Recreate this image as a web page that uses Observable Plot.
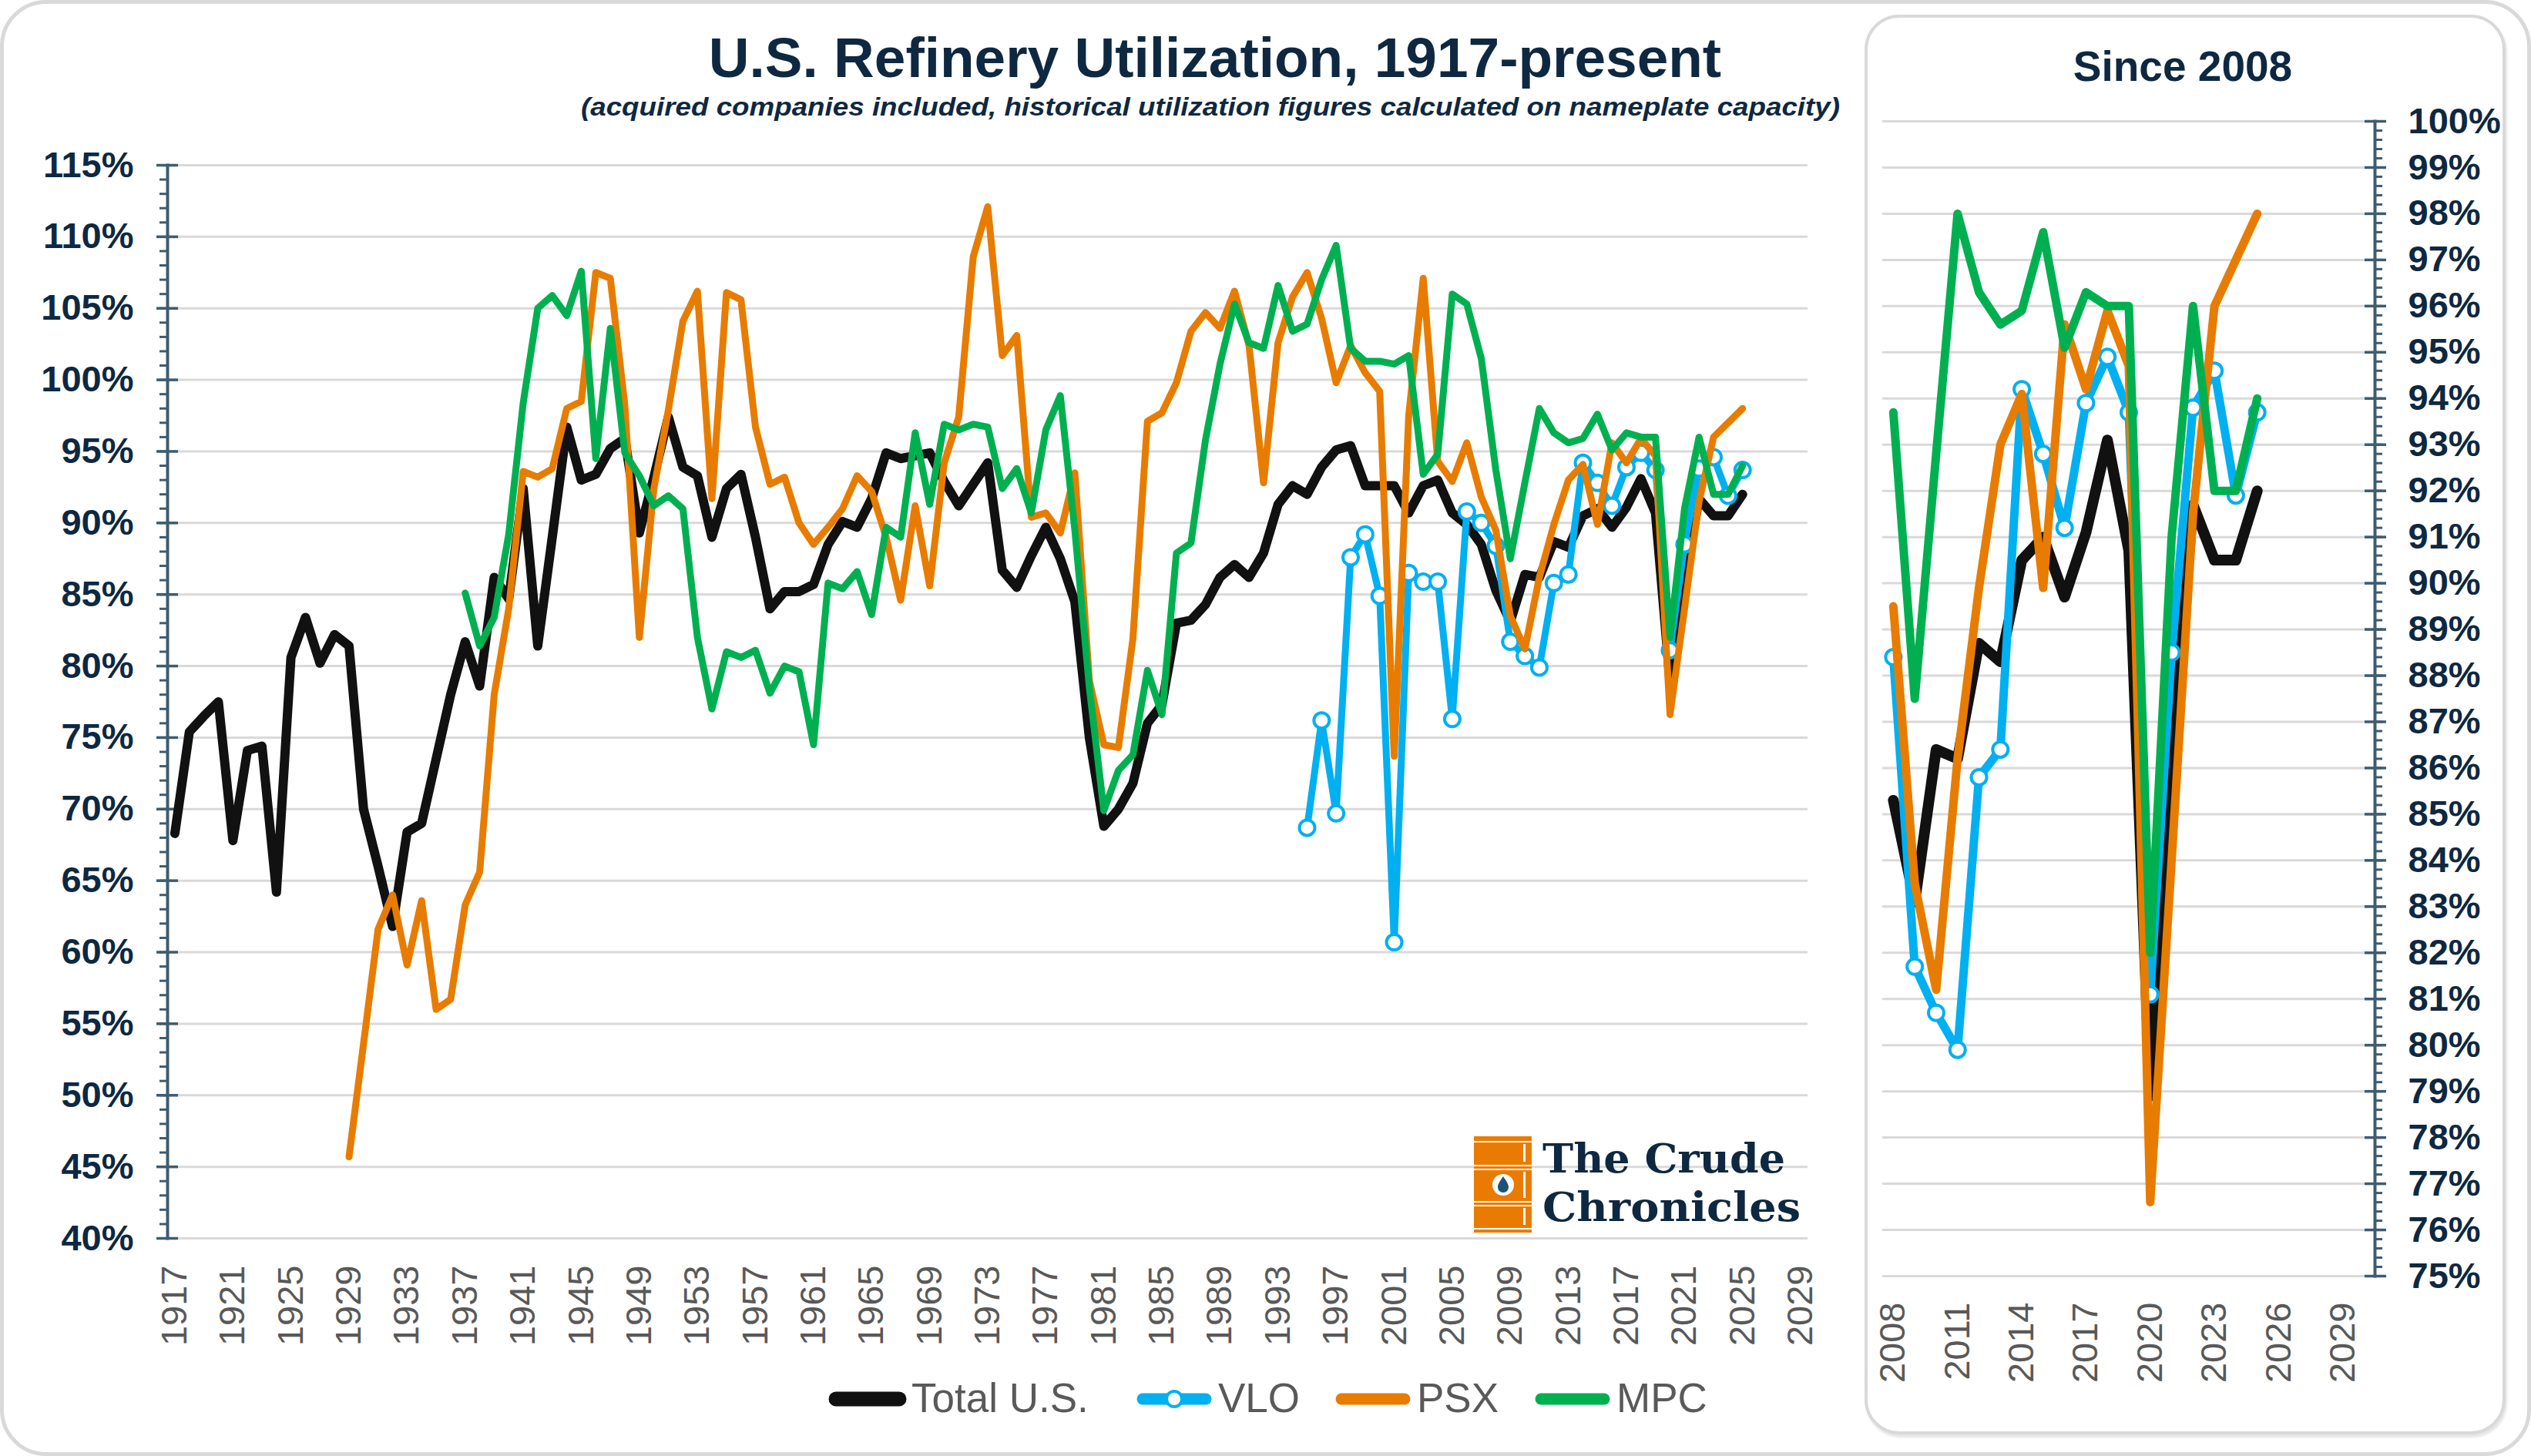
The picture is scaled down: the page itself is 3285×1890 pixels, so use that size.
<!DOCTYPE html>
<html>
<head>
<meta charset="utf-8">
<script src="https://cdn.jsdelivr.net/npm/d3@7"></script>
<script src="https://cdn.jsdelivr.net/npm/@observablehq/plot@0.6"></script>
<style>
  html, body { margin: 0; padding: 0; background: #ffffff; }
  #page { position: relative; width: 3285px; height: 1890px; overflow: hidden; background: #fff;
          font-family: "Liberation Sans", Arial, sans-serif; }
  #outer { position: absolute; left: 0; top: 0; width: 3285px; height: 1890px; box-sizing: border-box;
           border: 5px solid #D9D9D9; border-radius: 60px; }
  #card { position: absolute; left: 2420px; top: 19px; width: 832px; height: 1843px; box-sizing: border-box;
          border: 4px solid #D9D9D9; border-radius: 45px; box-shadow: 2px 4px 3px rgba(0,0,0,0.10); background: #fff; }
  #main, #inset, #overlay { position: absolute; top: 0; }
  #main { left: 0; }
  #inset { left: 2420px; }
  #overlay { left: 0; pointer-events: none; }
  svg { overflow: visible; }
</style>
</head>
<body>
<div id="page">
  <div id="outer"></div>
  <div id="card"></div>
  <div id="main"></div>
  <div id="inset"></div>
  <svg id="overlay" width="3285" height="1890"></svg>
</div>
<script>
// ---------------- DATA ----------------
const seriesNames  = ["Total U.S.", "VLO", "PSX", "MPC"];
const seriesColors = ["#111111", "#00B0F0", "#E77C00", "#00B050"];

const totalStart = 1917;
const totalUS = [
  68.3, 75.4, 76.5, 77.5, 67.8, 74.1, 74.4, 64.2, 80.6, 83.4,   // 1917-1926
  80.2, 82.2, 81.4, 70.0, 66.0, 61.8, 68.4, 69.0, 73.5, 78.0,   // 1927-1936
  81.7, 78.6, 86.2, 84.7, 92.4, 81.4, 89.0, 96.7, 93.0, 93.4,   // 1937-1946
  95.2, 95.9, 89.3, 93.2, 97.4, 93.9, 93.3, 89.0, 92.4, 93.4,   // 1947-1956
  89.0, 84.0, 85.2, 85.2, 85.7, 88.5, 90.1, 89.7, 91.7, 94.9,   // 1957-1966
  94.5, 94.7, 94.9, 92.9, 91.2, 92.7, 94.2, 86.7, 85.5, 87.7,   // 1967-1976
  89.7, 87.5, 84.5, 75.0, 68.8, 70.0, 71.8, 76.0, 77.3, 83.0,   // 1977-1986
  83.2, 84.3, 86.2, 87.1, 86.2, 87.9, 91.3, 92.6, 92.0, 93.9,   // 1987-1996
  95.1, 95.4, 92.6, 92.6, 92.6, 90.7, 92.6, 93.0, 90.7, 89.9,   // 1997-2006
  88.5, 85.3, 83.1, 86.4, 86.2, 88.7, 88.3, 90.5, 91.0, 89.7,   // 2007-2016
  91.1, 93.1, 90.7, 78.9, 86.0, 91.7, 90.5, 90.5, 92.0          // 2017-2025
];

const psxStart = 1929;
const psx = [
  45.7, 53.6, 61.6, 64.0, 59.1, 63.6, 56.0, 56.7, 63.3, 65.6,   // 1929-1938
  78.0, 84.0, 93.6, 93.2, 93.8, 98.0, 98.5, 107.5, 107.1, 98.2, // 1939-1948
  82.0, 92.4, 97.9, 104.1, 106.2, 91.7, 106.1, 105.6, 96.7, 92.7, // 1949-1958
  93.2, 90.0, 88.5, 89.7, 91.0, 93.3, 92.2, 89.0, 84.6, 91.2,   // 1959-1968
  85.6, 94.2, 97.4, 108.6, 112.1, 101.7, 103.1, 90.4, 90.7, 89.3, // 1969-1978
  93.5, 79.0, 74.5, 74.3, 81.9, 97.1, 97.7, 99.8, 103.4, 104.7, // 1979-1988
  103.6, 106.2, 102.4, 92.8, 102.6, 105.8, 107.5, 104.3, 99.8, 102.4, // 1989-1998
  100.5, 99.2, 73.7, 97.5, 107.1, 94.3, 92.9, 95.6, 91.8, 89.5, // 1999-2008
  83.5, 81.2, 86.2, 89.9, 93.0, 94.1, 89.9, 95.6, 94.2, 95.9,   // 2009-2018
  94.7, 76.6, 84.0, 91.5, 96.0, 97.0, 98.0                      // 2019-2025
];

const mpcStart = 1937;
const mpc = [
  85.1, 81.4, 83.4, 89.2, 98.4, 105.0, 105.9, 104.5, 107.6, 94.5, // 1937-1946
  103.6, 94.9, 93.3, 91.2, 91.9, 91.0, 82.0, 77.0, 81.0, 80.6,  // 1947-1956
  81.1, 78.1, 80.0, 79.6, 74.5, 85.8, 85.4, 86.6, 83.6, 89.7,   // 1957-1966
  89.0, 96.3, 91.3, 96.9, 96.5, 96.9, 96.7, 92.4, 93.8, 90.7,   // 1967-1976
  96.5, 98.9, 89.5, 78.5, 69.9, 72.7, 73.8, 79.7, 76.6, 87.9,   // 1977-1986
  88.6, 95.8, 101.1, 105.3, 102.6, 102.2, 106.6, 103.4, 103.9, 107.0, // 1987-1996
  109.4, 102.2, 101.3, 101.3, 101.1, 101.7, 93.4, 94.8, 106.0, 105.3, // 1997-2006
  101.5, 93.7, 87.5, 92.8, 98.0, 96.3, 95.6, 95.9, 97.6, 95.1,  // 2007-2016
  96.3, 96.0, 96.0, 82.0, 91.0, 96.0, 92.0, 92.0, 94.0          // 2017-2025
];

const vloStart = 1995;
const vlo = [
  68.7, 76.2, 69.7, 87.6, 89.2, 84.9, 60.7, 86.5, 85.9, 85.9,   // 1995-2004
  76.3, 90.8, 90.0, 88.4, 81.7, 80.7, 79.9, 85.8, 86.4, 94.2,   // 2005-2014
  92.8, 91.2, 93.9, 94.9, 93.7, 81.1, 88.5, 93.8, 94.6, 91.9,   // 2015-2024
  93.7                                                          // 2025
];

const mainXTicks  = d3.range(1917, 2030, 4);
const mainYTicks  = d3.range(40, 116, 5);
const mainYMinor  = d3.range(40, 116, 1);
const insetStart  = 2008;
const insetXTicks = d3.range(2008, 2030, 3);
const insetYTicks = d3.range(75, 101, 1);
const insetYMinor = d3.range(375, 501).map(d => d / 5);

const titleText    = "U.S. Refinery Utilization, 1917-present";
const subtitleText = "(acquired companies included, historical utilization figures calculated on nameplate capacity)";
const insetTitle   = "Since 2008";
const logoLines    = ["The Crude", "Chronicles"];

// ---------------- BUILD ----------------
const navy = "#0E2841";
const slate = "#3F5C70";
const grid = "#D9D9D9";
const font = "Liberation Sans, Arial, sans-serif";

function rows(start, values, series) {
  return values.map((v, i) => ({year: start + i, value: v, series}));
}
const seriesData = [
  rows(totalStart, totalUS, seriesNames[0]),
  rows(vloStart, vlo, seriesNames[1]),
  rows(psxStart, psx, seriesNames[2]),
  rows(mpcStart, mpc, seriesNames[3])
];

function seriesMarks(filter, widths, r) {
  const out = [];
  seriesData.forEach((d, i) => {
    const dd = d.filter(filter);
    out.push(Plot.line(dd, {x: "year", y: "value", stroke: seriesColors[i], strokeWidth: widths[i],
      strokeLinejoin: "round", strokeLinecap: "round"}));
    if (i === 1) {
      out.push(Plot.dot(dd, {x: "year", y: "value", r, fill: "#ffffff", stroke: seriesColors[i], strokeWidth: 4}));
    }
  });
  return out;
}

const mainPlot = Plot.plot({
  width: 2400, height: 1780,
  marginLeft: 217, marginRight: 54, marginTop: 214, marginBottom: 173,
  x: {type: "linear", domain: [1916.5, 2029.5]},
  y: {type: "linear", domain: [40, 115]},
  style: {fontFamily: font, background: "transparent", overflow: "visible"},
  marks: [
    Plot.gridY({ticks: mainYTicks, stroke: grid, strokeOpacity: 1, strokeWidth: 3}),
    Plot.axisY({ticks: mainYMinor, tickSize: 10, stroke: slate, strokeWidth: 3, fill: "none", label: null}),
    Plot.axisY({ticks: mainYTicks, tickSize: 28, dx: 14, stroke: slate, strokeWidth: 3.5, fill: "none", label: null}),
    Plot.axisY({ticks: mainYTicks, tickSize: 0, tickPadding: 44, stroke: "none", fill: navy,
      fontSize: 47, fontWeight: "bold", fontFamily: font, tickFormat: d => d + "%", label: null}),
    Plot.axisX({ticks: mainXTicks, tickSize: 0, tickRotate: -90, tickPadding: 35, fill: "#595959",
      fontSize: 47, fontFamily: font, tickFormat: d3.format("d"), label: null}),
    Plot.frame({anchor: "left", stroke: slate, strokeWidth: 4}),
    ...seriesMarks(() => true, [12, 9, 9, 9], 10)
  ]
});
document.getElementById("main").appendChild(mainPlot);

const insetPlot = Plot.plot({
  width: 865, height: 1800,
  marginLeft: 23, marginRight: 203, marginTop: 157, marginBottom: 144,
  x: {type: "linear", domain: [2007.5, 2030.5]},
  y: {type: "linear", domain: [75, 100]},
  style: {fontFamily: font, background: "transparent", overflow: "visible"},
  marks: [
    Plot.gridY({ticks: insetYTicks, stroke: grid, strokeOpacity: 1, strokeWidth: 3}),
    Plot.axisY({anchor: "right", ticks: insetYMinor, tickSize: 9, stroke: slate, strokeWidth: 3, fill: "none", label: null}),
    Plot.axisY({anchor: "right", ticks: insetYTicks, tickSize: 28, dx: -14, stroke: slate, strokeWidth: 3.5, fill: "none", label: null}),
    Plot.axisY({anchor: "right", ticks: insetYTicks, tickSize: 0, tickPadding: 43, stroke: "none", fill: navy,
      fontSize: 47, fontWeight: "bold", fontFamily: font, tickFormat: d => d + "%", label: null}),
    Plot.axisX({ticks: insetXTicks, tickSize: 0, tickRotate: -90, tickPadding: 34, fill: "#595959",
      fontSize: 47, fontFamily: font, tickFormat: d3.format("d"), label: null}),
    Plot.frame({anchor: "right", stroke: slate, strokeWidth: 4}),
    ...seriesMarks(d => d.year >= insetStart, [14, 11, 11, 11], 10)
  ]
});
document.getElementById("inset").appendChild(insetPlot);

// ---------------- TEXT, LEGEND, LOGO ----------------
const ov = d3.select("#overlay");
ov.append("text").attr("x", 1577).attr("y", 100).attr("text-anchor", "middle")
  .attr("font-family", font).attr("font-weight", "bold").attr("font-size", 73).attr("fill", navy).text(titleText);
ov.append("text").attr("x", 1571).attr("y", 150).attr("text-anchor", "middle")
  .attr("font-family", font).attr("font-weight", "bold").attr("font-style", "italic").attr("font-size", 34)
  .attr("textLength", 1634).attr("lengthAdjust", "spacingAndGlyphs").attr("fill", navy).text(subtitleText);
ov.append("text").attr("x", 2833).attr("y", 105).attr("text-anchor", "middle")
  .attr("font-family", font).attr("font-weight", "bold").attr("font-size", 55).attr("fill", navy).text(insetTitle);

// legend
const legendX = [1079, 1477, 1735, 1994];
const legendY = 1816;
seriesNames.forEach((name, i) => {
  const g = ov.append("g");
  g.append("line").attr("x1", legendX[i] + 6).attr("x2", legendX[i] + 88).attr("y1", legendY).attr("y2", legendY)
    .attr("stroke", seriesColors[i]).attr("stroke-width", i === 0 ? 19 : 15).attr("stroke-linecap", "round");
  if (i === 1) {
    g.append("circle").attr("cx", legendX[i] + 47).attr("cy", legendY).attr("r", 10)
      .attr("fill", "#fff").attr("stroke", seriesColors[i]).attr("stroke-width", 4);
  }
  g.append("text").attr("x", legendX[i] + 104).attr("y", 1833).attr("font-family", font)
    .attr("font-size", 53).attr("fill", "#595959").text(name);
});

// logo
const orange = "#E97C00";
const logo = ov.append("g");
logo.append("rect").attr("x", 1913).attr("y", 1475).attr("width", 75).attr("height", 125).attr("fill", orange);
[1481, 1512, 1517, 1559, 1564, 1594].forEach(y => {
  logo.append("rect").attr("x", 1913).attr("y", y).attr("width", 75).attr("height", 2).attr("fill", "#fff");
});
[[1483, 1510], [1519, 1557], [1566, 1592]].forEach(([a, b]) => {
  logo.append("rect").attr("x", 1977).attr("y", a + 2).attr("width", 3).attr("height", b - a - 4).attr("fill", "#fff");
});
logo.append("circle").attr("cx", 1951).attr("cy", 1538).attr("r", 14).attr("fill", "#fff");
logo.append("path").attr("d", "M1951,1527 C1947,1533 1944,1537 1944,1541 A7,7 0 0 0 1958,1541 C1958,1537 1955,1533 1951,1527 Z")
  .attr("fill", "#1D5273");
logo.append("text").attr("x", 2002).attr("y", 1522).attr("font-family", "DejaVu Serif, serif").attr("font-weight", "bold")
  .attr("font-size", 52).attr("textLength", 315).attr("lengthAdjust", "spacingAndGlyphs").attr("fill", navy).text(logoLines[0]);
logo.append("text").attr("x", 2002).attr("y", 1585).attr("font-family", "DejaVu Serif, serif").attr("font-weight", "bold")
  .attr("font-size", 52).attr("textLength", 335).attr("lengthAdjust", "spacingAndGlyphs").attr("fill", navy).text(logoLines[1]);
</script>
</body>
</html>
